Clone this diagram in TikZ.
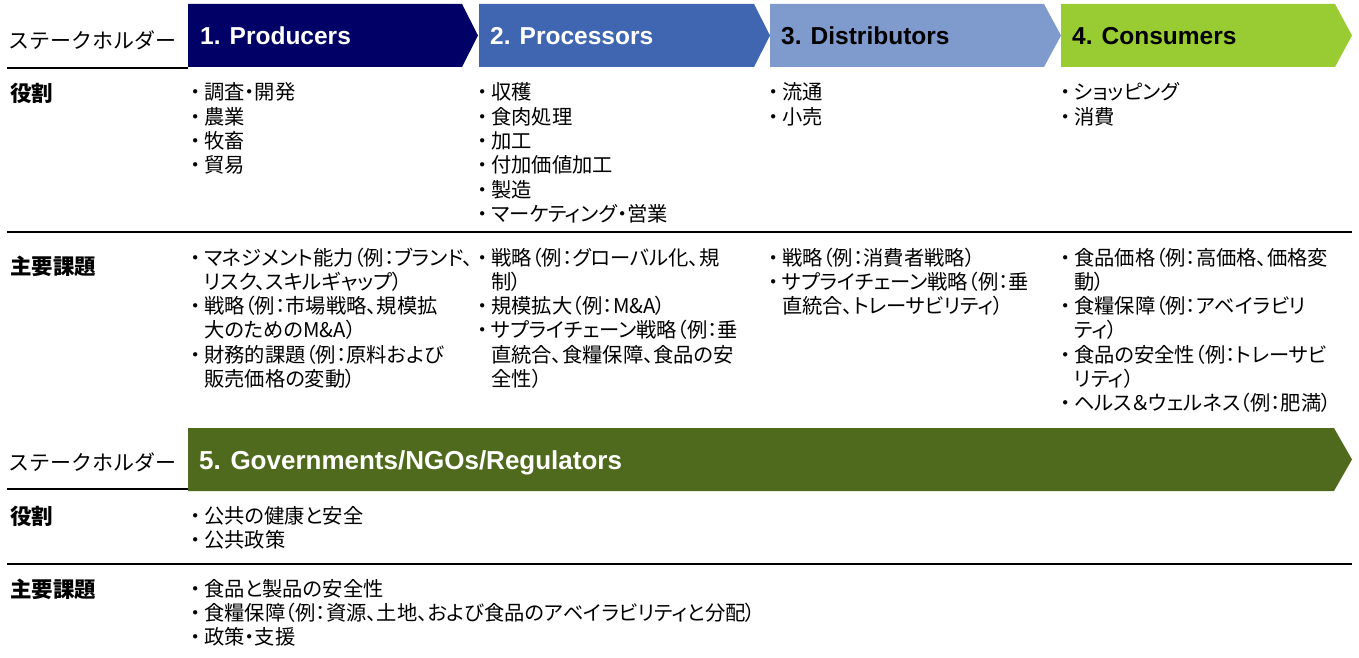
\documentclass[tikz,border=0pt]{standalone}
\usepackage{fontspec}
\setmainfont{Liberation Sans}
\newfontfamily\jp[RawFeature=+palt]{Noto Sans CJK JP}
\newfontfamily\jpf{Noto Sans CJK JP}
\definecolor{cProd}{HTML}{000066}
\definecolor{cProc}{HTML}{4066B2}
\definecolor{cDist}{HTML}{7F9BCE}
\definecolor{cCons}{HTML}{99CC33}
\definecolor{cGov}{HTML}{4F6A1C}
\newcommand\bu{\makebox[17pt][c]{\smash{・}}}
\newcommand\li[1]{\bu&\smash{#1}\\}
\newcommand\lc[1]{&\smash{#1}\\}
\newenvironment{blist}{\begin{tabular}[t]{@{}l@{}l@{}}}{\end{tabular}}
\tikzset{
  chev/.style={draw=none},
  lbl/.style={anchor=base west, inner sep=0pt, font=\fontsize{24.5}{28}\selectfont\bfseries},
  stk/.style={anchor=base west, inner sep=0pt, font=\jpf\fontsize{21}{24}\selectfont},
  hdr/.style={anchor=base west, inner sep=0pt, font=\jp\fontsize{21.5}{24}\selectfont\bfseries},
  cell/.style={anchor=base west, inner sep=0pt, font=\jp\fontsize{20.3}{24.3}\selectfont},
  rule/.style={line width=2pt, black}
}
\begin{document}
\begin{tikzpicture}[x=1pt,y=-1pt]
\useasboundingbox (0,0) rectangle (1359,658);
\fill[white] (0,0) rectangle (1359,658);
% chevrons
\fill[cProd] (188,4) -- (462,4) -- (478,35.5) -- (462,67) -- (188,67) -- cycle;
\fill[cProc] (479,4) -- (754,4) -- (770,35.5) -- (754,67) -- (479,67) -- cycle;
\fill[cDist] (770,4) -- (1044,4) -- (1061,35.5) -- (1044,67) -- (770,67) -- cycle;
\fill[cCons] (1061,4) -- (1335,4) -- (1352,35.5) -- (1335,67) -- (1061,67) -- cycle;
\fill[cGov] (188,428) -- (1334,428) -- (1352,459.5) -- (1334,491) -- (188,491) -- cycle;
% rules
\draw[rule] (7,68) -- (188,68);
\draw[rule] (7,232) -- (1352,232);
\draw[rule] (7,489) -- (188,489);
\draw[rule] (7,564) -- (1352,564);
% chevron labels
\node[lbl, text=white] (p1) at (200,45) {1. Producers};
\node[lbl, text=white] (p2) at (490,45) {2. Processors};
\node[lbl, text=black] (p3) at (781,45) {3. Distributors};
\node[lbl, text=black] (p4) at (1072,45) {4. Consumers};
\node[lbl, text=white, font=\fontsize{26}{30}\selectfont\bfseries] (p5) at (199,469) {5. Governments/NGOs/Regulators};
% row labels
\node[stk] (s1) at (8,49) {ステークホルダー};
\node[stk] (s2) at (8,470) {ステークホルダー};
\node[hdr] (r1) at (10,102) {役割};
\node[hdr] (i1) at (10,274) {主要課題};
\node[hdr] (r2) at (10,524) {役割};
\node[hdr] (i2) at (10,597) {主要課題};
% roles
\node[cell] (rp1) at (187,100) {\begin{blist}\li{調査・開発}\li{農業}\li{牧畜}\li{貿易}\end{blist}};
\node[cell] (rp2) at (474,100) {\begin{blist}\li{収穫}\li{食肉処理}\li{加工}\li{付加価値加工}\li{製造}\li{マーケティング・営業}\end{blist}};
\node[cell] (rp3) at (765,100) {\begin{blist}\li{流通}\li{小売}\end{blist}};
\node[cell] (rp4) at (1057,100) {\begin{blist}\li{ショッピング}\li{消費}\end{blist}};
% issues
\node[cell] (ip1) at (187,265) {\begin{blist}\li{マネジメント能力（例：ブランド、}\lc{リスク、スキルギャップ）}\li{戦略（例：市場戦略、規模拡}\lc{大のためのM\&A）}\li{財務的課題（例：原料および}\lc{販売価格の変動）}\end{blist}};
\node[cell] (ip2) at (474,265) {\begin{blist}\li{戦略（例：グローバル化、規}\lc{制）}\li{規模拡大（例：M\&A）}\li{サプライチェーン戦略（例：垂}\lc{直統合、食糧保障、食品の安}\lc{全性）}\end{blist}};
\node[cell] (ip3) at (765,265) {\begin{blist}\li{戦略（例：消費者戦略）}\li{サプライチェーン戦略（例：垂}\lc{直統合、トレーサビリティ）}\end{blist}};
\node[cell] (ip4) at (1057,265) {\begin{blist}\li{食品価格（例：高価格、価格変}\lc{動）}\li{食糧保障（例：アベイラビリ}\lc{ティ）}\li{食品の安全性（例：トレーサビ}\lc{リティ）}\li{ヘルス＆ウェルネス（例：肥満）}\end{blist}};
% government
\node[cell] (rg) at (187,523) {\begin{blist}\li{公共の健康と安全}\li{公共政策}\end{blist}};
\node[cell] (ig) at (187,596) {\begin{blist}\li{食品と製品の安全性}\li{食糧保障（例：資源、土地、および食品のアベイラビリティと分配）}\li{政策・支援}\end{blist}};
\end{tikzpicture}
\end{document}
